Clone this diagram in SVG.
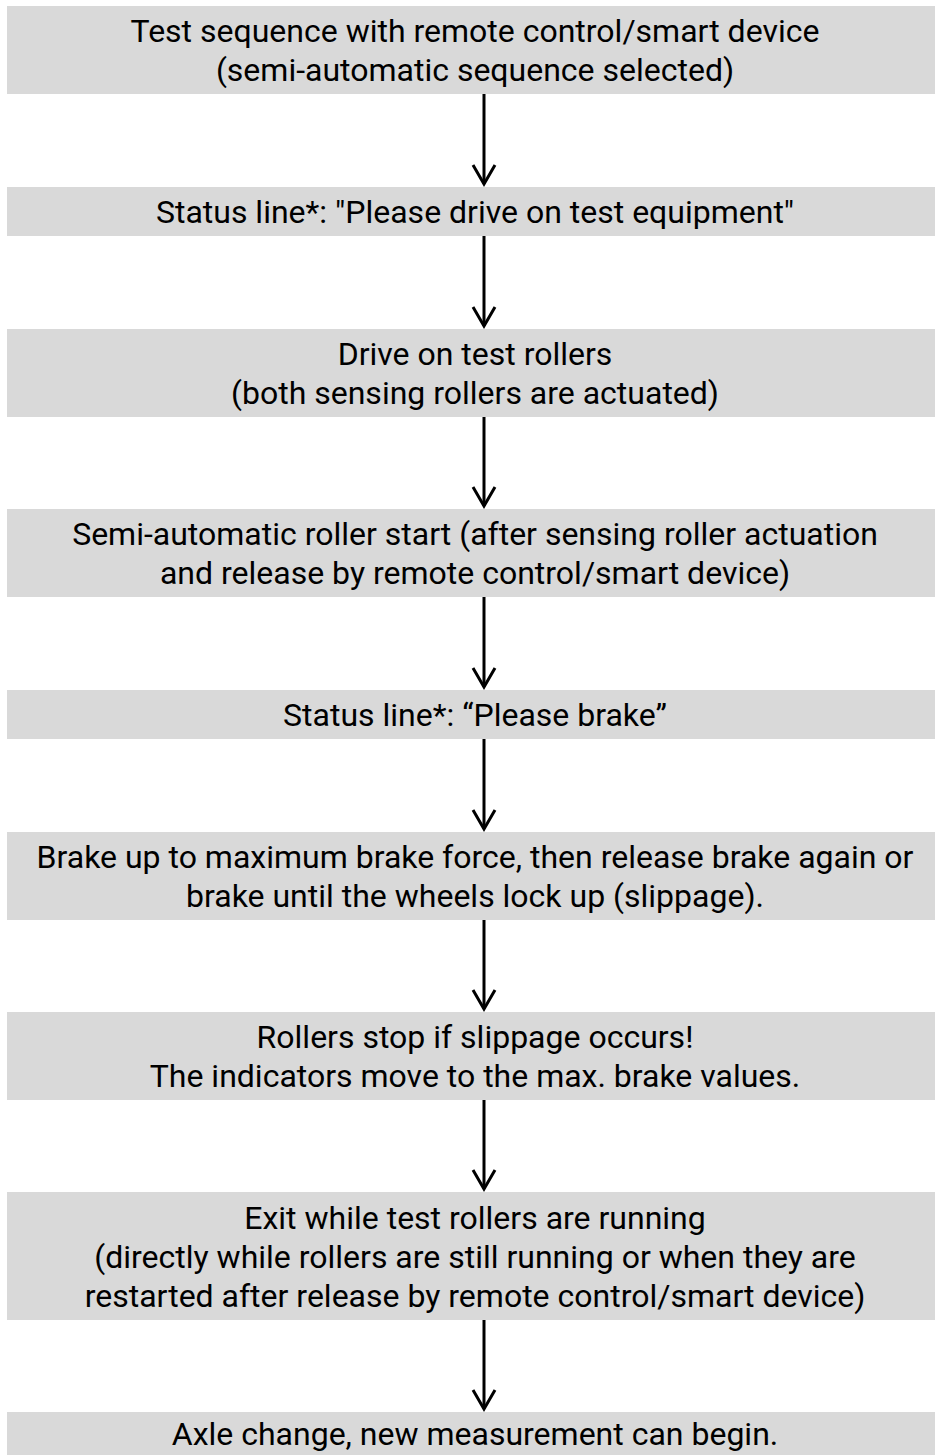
<svg xmlns="http://www.w3.org/2000/svg" width="935" height="1455" viewBox="0 0 935 1455">
<style>
.box{fill:#d9d9d9;}
.t{font-family:Roboto,"Liberation Sans",sans-serif;font-size:32px;fill:#000;text-anchor:middle;}
.c{stroke:#000;stroke-width:3;fill:none;}
</style>
<defs>
<marker id="ah" markerUnits="userSpaceOnUse" markerWidth="40" markerHeight="40" viewBox="-25 -20 30 40" refX="0" refY="0" orient="auto" overflow="visible">
<path d="M-19,-11 L0,0 L-19,11" fill="none" stroke="#000" stroke-width="3"/>
</marker>
</defs>
<rect width="935" height="1455" fill="#fff"/>
<g id="connectors">
<line class="c" x1="484" y1="94" x2="484" y2="184" marker-end="url(#ah)"/>
<line class="c" x1="484" y1="236" x2="484" y2="326" marker-end="url(#ah)"/>
<line class="c" x1="484" y1="417" x2="484" y2="506" marker-end="url(#ah)"/>
<line class="c" x1="484" y1="597" x2="484" y2="687" marker-end="url(#ah)"/>
<line class="c" x1="484" y1="739" x2="484" y2="829" marker-end="url(#ah)"/>
<line class="c" x1="484" y1="920" x2="484" y2="1009" marker-end="url(#ah)"/>
<line class="c" x1="484" y1="1100" x2="484" y2="1189" marker-end="url(#ah)"/>
<line class="c" x1="484" y1="1320" x2="484" y2="1409" marker-end="url(#ah)"/>
</g>
<g id="n1"><rect class="box" x="7" y="6" width="928" height="88"/>
<text class="t" x="475" y="42">Test sequence with remote control/smart device</text>
<text class="t" x="475" y="81">(semi-automatic sequence selected)</text></g>
<g id="n2"><rect class="box" x="7" y="187" width="928" height="49"/>
<text class="t" x="475" y="223">Status line*: "Please drive on test equipment"</text></g>
<g id="n3"><rect class="box" x="7" y="329" width="928" height="88"/>
<text class="t" x="475" y="365">Drive on test rollers</text>
<text class="t" x="475" y="404">(both sensing rollers are actuated)</text></g>
<g id="n4"><rect class="box" x="7" y="509" width="928" height="88"/>
<text class="t" x="475" y="545">Semi-automatic roller start (after sensing roller actuation</text>
<text class="t" x="475" y="584">and release by remote control/smart device)</text></g>
<g id="n5"><rect class="box" x="7" y="690" width="928" height="49"/>
<text class="t" x="475" y="726">Status line*: “Please brake”</text></g>
<g id="n6"><rect class="box" x="7" y="832" width="928" height="88"/>
<text class="t" x="475" y="868">Brake up to maximum brake force, then release brake again or</text>
<text class="t" x="475" y="907">brake until the wheels lock up (slippage).</text></g>
<g id="n7"><rect class="box" x="7" y="1012" width="928" height="88"/>
<text class="t" x="475" y="1048">Rollers stop if slippage occurs!</text>
<text class="t" x="475" y="1087">The indicators move to the max. brake values.</text></g>
<g id="n8"><rect class="box" x="7" y="1192" width="928" height="128"/>
<text class="t" x="475" y="1229">Exit while test rollers are running</text>
<text class="t" x="475" y="1268">(directly while rollers are still running or when they are</text>
<text class="t" x="475" y="1307">restarted after release by remote control/smart device)</text></g>
<g id="n9"><rect class="box" x="7" y="1412" width="928" height="43"/>
<text class="t" x="475" y="1445">Axle change, new measurement can begin.</text></g>
</svg>
